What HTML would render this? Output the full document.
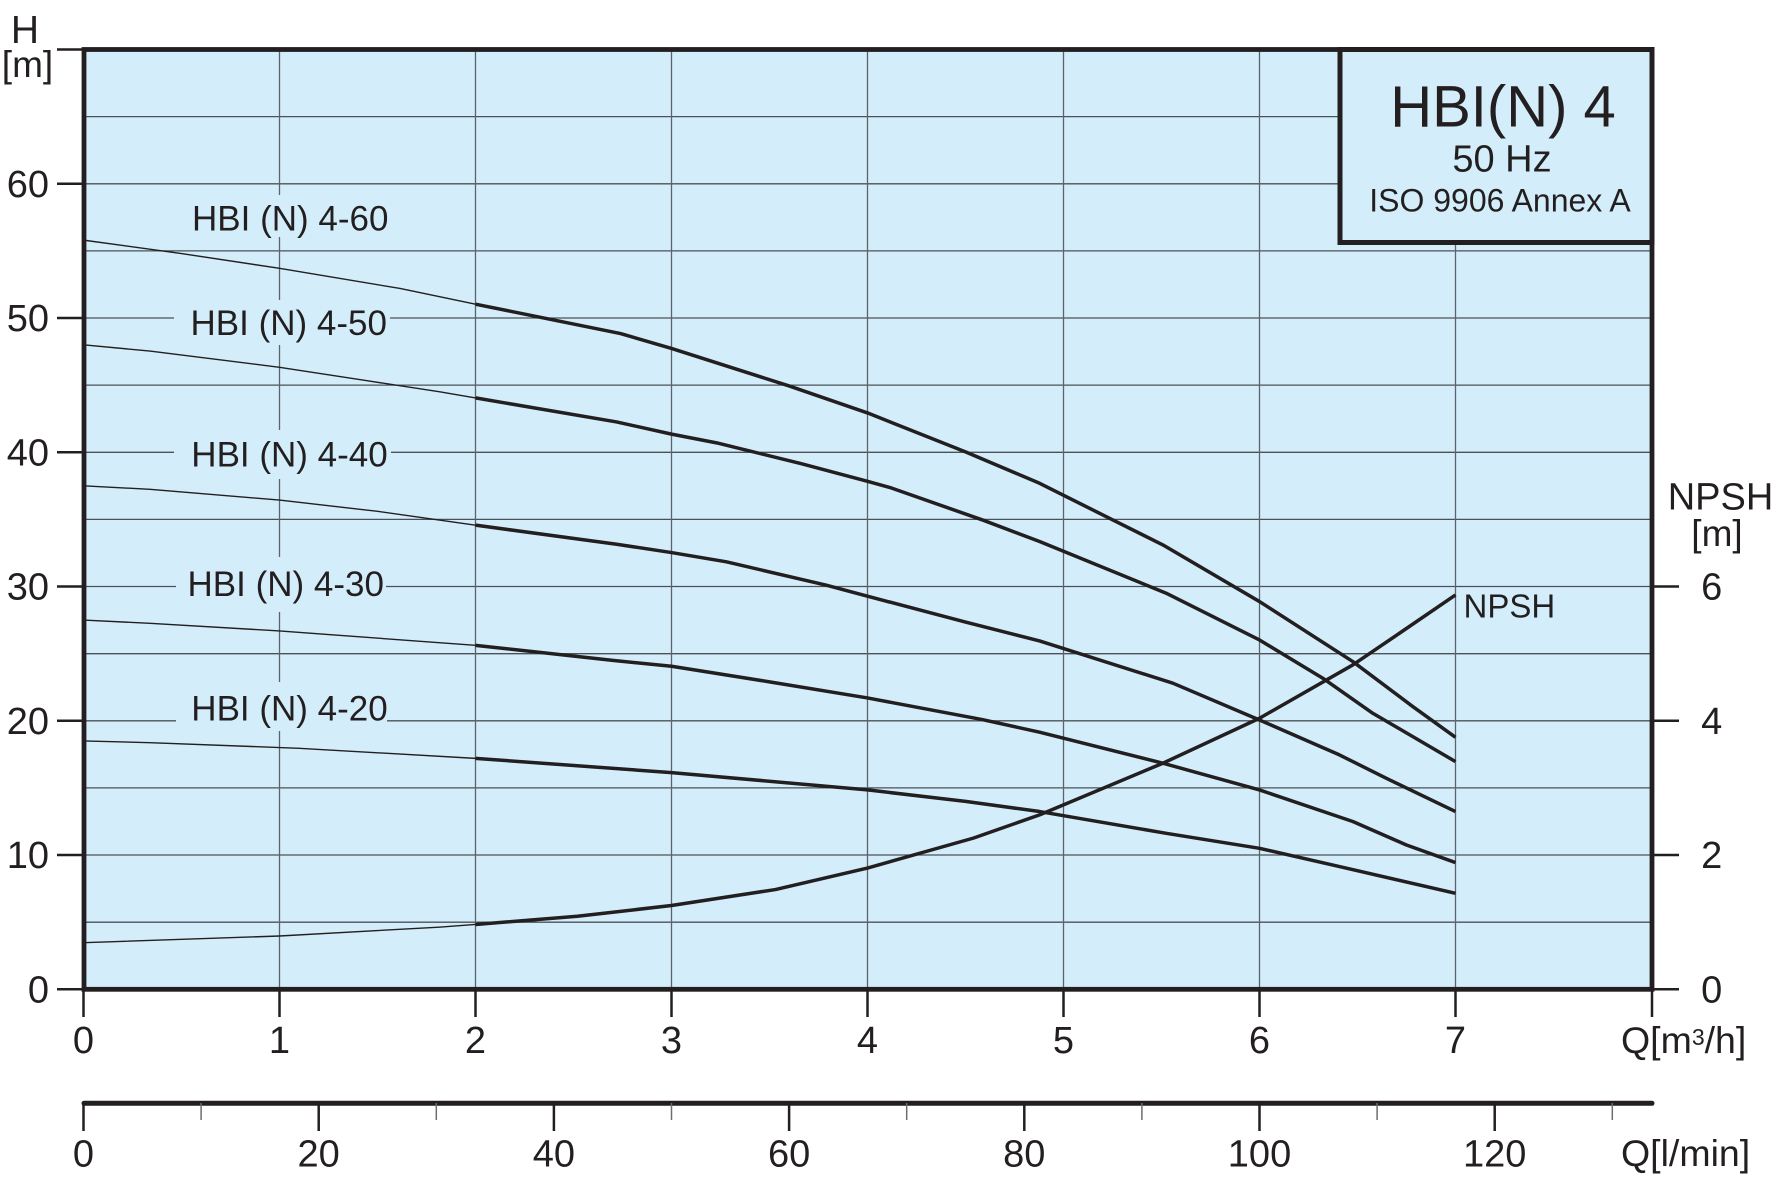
<!DOCTYPE html>
<html>
<head>
<meta charset="utf-8">
<style>
html,body{margin:0;padding:0;background:#ffffff;}
svg{display:block;}
text{font-family:"Liberation Sans",Arial,sans-serif;fill:#231f20;}
</style>
</head>
<body>
<svg width="1786" height="1186" viewBox="0 0 1786 1186" xmlns="http://www.w3.org/2000/svg">
  <!-- plot background -->
  <rect x="84" y="49.5" width="1568" height="940" fill="#d3eefa"/>

  <!-- horizontal gridlines (every 5 m) -->
  <g stroke="#4c5157" stroke-width="1.3">
    <line x1="84" y1="922.2" x2="1652" y2="922.2"/>
    <line x1="84" y1="855.0" x2="1652" y2="855.0"/>
    <line x1="84" y1="787.9" x2="1652" y2="787.9"/>
    <line x1="84" y1="720.8" x2="1652" y2="720.8"/>
    <line x1="84" y1="653.7" x2="1652" y2="653.7"/>
    <line x1="84" y1="586.5" x2="1652" y2="586.5"/>
    <line x1="84" y1="519.4" x2="1652" y2="519.4"/>
    <line x1="84" y1="452.3" x2="1652" y2="452.3"/>
    <line x1="84" y1="385.1" x2="1652" y2="385.1"/>
    <line x1="84" y1="318.0" x2="1652" y2="318.0"/>
    <line x1="84" y1="250.9" x2="1652" y2="250.9"/>
    <line x1="84" y1="183.8" x2="1652" y2="183.8"/>
    <line x1="84" y1="116.6" x2="1652" y2="116.6"/>
  </g>
  <!-- vertical gridlines (every 1 m3/h) -->
  <g stroke="#5c636a" stroke-width="1.3">
    <line x1="279.5" y1="49.5" x2="279.5" y2="989.3"/>
    <line x1="475.5" y1="49.5" x2="475.5" y2="989.3"/>
    <line x1="671.5" y1="49.5" x2="671.5" y2="989.3"/>
    <line x1="867.5" y1="49.5" x2="867.5" y2="989.3"/>
    <line x1="1063.5" y1="49.5" x2="1063.5" y2="989.3"/>
    <line x1="1259.5" y1="49.5" x2="1259.5" y2="989.3"/>
    <line x1="1455.5" y1="49.5" x2="1455.5" y2="989.3"/>
  </g>

  <!-- label knockouts -->
  <g fill="#d3eefa">
    <rect x="174" y="195" width="216" height="42"/>
    <rect x="174" y="300" width="216" height="45"/>
    <rect x="174" y="430" width="217" height="49"/>
    <rect x="176" y="557" width="210" height="55"/>
    <rect x="176" y="682" width="211" height="49"/>
  </g>

  <!-- curve labels -->
  <g font-size="35">
    <text x="192" y="230.7">HBI (N) 4-60</text>
    <text x="190.5" y="335">HBI (N) 4-50</text>
    <text x="191.3" y="466.7">HBI (N) 4-40</text>
    <text x="187.5" y="596">HBI (N) 4-30</text>
    <text x="191.3" y="720.7">HBI (N) 4-20</text>
  </g>
  <text x="1463.5" y="617.7" font-size="33">NPSH</text>

  <!-- curves -->
  <g transform="translate(83.5 989.3) scale(196 -13.426)" fill="none" stroke="#231f20" stroke-linejoin="round">
    <!-- thin parts -->
    <g stroke-width="1.4">
      <polyline vector-effect="non-scaling-stroke" points="0,55.8 0.5,54.8 1,53.7 1.615,52.2 2,51.03"/>
      <polyline vector-effect="non-scaling-stroke" points="0,48.0 0.339,47.54 1,46.33 1.818,44.5 2,44.05"/>
      <polyline vector-effect="non-scaling-stroke" points="0,37.5 0.339,37.24 1,36.44 1.5,35.6 2,34.57"/>
      <polyline vector-effect="non-scaling-stroke" points="0,27.5 0.339,27.26 1,26.69 1.814,25.82 2,25.62"/>
      <polyline vector-effect="non-scaling-stroke" points="0,18.5 0.339,18.37 1.1,17.95 2,17.2"/>
      <polyline vector-effect="non-scaling-stroke" points="0,3.47 1,3.97 1.814,4.63 2,4.83"/>
    </g>
    <!-- thick parts -->
    <g stroke-width="3.5">
      <polyline vector-effect="non-scaling-stroke" points="2,51.03 2.74,48.84 3,47.73 3.6,44.94 4,42.93 4.5,40.03 4.878,37.69 5.235,35.08 5.507,33.1 6,28.88 6.476,24.41 6.782,21.06 7,18.77"/>
      <polyline vector-effect="non-scaling-stroke" points="2,44.05 2.72,42.26 3,41.35 3.23,40.7 3.66,39.16 4,37.84 4.12,37.35 4.59,34.94 4.878,33.35 5.524,29.5 6,26.02 6.323,23.17 6.578,20.56 7,16.96"/>
      <polyline vector-effect="non-scaling-stroke" points="2,34.57 2.72,33.15 3,32.53 3.28,31.84 3.79,30.1 4,29.28 4.5,27.35 4.878,25.95 5.558,22.8 6,20.06 6.408,17.46 6.646,15.72 7,13.24"/>
      <polyline vector-effect="non-scaling-stroke" points="2,25.62 2.7,24.5 3,24.06 3.5,22.9 4,21.7 4.582,20.1 4.878,19.15 5.507,16.84 6,14.85 6.476,12.5 6.748,10.76 7,9.44"/>
      <polyline vector-effect="non-scaling-stroke" points="2,17.2 3,16.14 4,14.85 4.5,14.0 4.878,13.24 5.524,11.62 6,10.5 6.408,9.14 7,7.15"/>
      <polyline vector-effect="non-scaling-stroke" points="2,4.83 2.52,5.44 3,6.24 3.53,7.43 4,9.03 4.54,11.26 4.878,12.99 5.507,16.84 6,20.19 6.476,24.16 6.714,26.52 7,29.37"/>
    </g>
  </g>

  <!-- title box -->
  <rect x="1340" y="49.5" width="312" height="193" fill="#d3eefa" stroke="#231f20" stroke-width="5"/>
  <text x="1503" y="126.7" font-size="58" text-anchor="middle">HBI(N) 4</text>
  <text x="1502" y="171.7" font-size="38" text-anchor="middle">50 Hz</text>
  <text x="1500" y="211.7" font-size="32" text-anchor="middle">ISO 9906 Annex A</text>

  <!-- frame -->
  <rect x="84" y="49.5" width="1568" height="939.8" fill="none" stroke="#231f20" stroke-width="4.8"/>

  <!-- ticks -->
  <g stroke="#231f20" stroke-width="2.5">
    <line x1="57" y1="989.3" x2="84" y2="989.3"/>
    <line x1="57" y1="855.0" x2="84" y2="855.0"/>
    <line x1="57" y1="720.8" x2="84" y2="720.8"/>
    <line x1="57" y1="586.5" x2="84" y2="586.5"/>
    <line x1="57" y1="452.3" x2="84" y2="452.3"/>
    <line x1="57" y1="318.0" x2="84" y2="318.0"/>
    <line x1="57" y1="183.8" x2="84" y2="183.8"/>
    <line x1="57" y1="49.5" x2="84" y2="49.5"/>
    <!-- right ticks -->
    <line x1="1652" y1="989.3" x2="1679" y2="989.3"/>
    <line x1="1652" y1="855.0" x2="1679" y2="855.0"/>
    <line x1="1652" y1="720.8" x2="1679" y2="720.8"/>
    <line x1="1652" y1="586.5" x2="1679" y2="586.5"/>
    <!-- bottom ticks -->
    <line x1="83.5" y1="989.3" x2="83.5" y2="1017"/>
    <line x1="279.5" y1="989.3" x2="279.5" y2="1017"/>
    <line x1="475.5" y1="989.3" x2="475.5" y2="1017"/>
    <line x1="671.5" y1="989.3" x2="671.5" y2="1017"/>
    <line x1="867.5" y1="989.3" x2="867.5" y2="1017"/>
    <line x1="1063.5" y1="989.3" x2="1063.5" y2="1017"/>
    <line x1="1259.5" y1="989.3" x2="1259.5" y2="1017"/>
    <line x1="1455.5" y1="989.3" x2="1455.5" y2="1017"/>
    <line x1="1652" y1="989.3" x2="1652" y2="1017"/>
  </g>

  <!-- left tick labels -->
  <g font-size="38" text-anchor="end">
    <text x="49" y="1002.5">0</text>
    <text x="49" y="868.2">10</text>
    <text x="49" y="734">20</text>
    <text x="49" y="599.7">30</text>
    <text x="49" y="465.5">40</text>
    <text x="49" y="331.2">50</text>
    <text x="49" y="197">60</text>
  </g>
  <text x="25" y="43" font-size="39" text-anchor="middle">H</text>
  <text x="27.5" y="77" font-size="37" text-anchor="middle">[m]</text>

  <!-- right tick labels -->
  <g font-size="38" text-anchor="middle">
    <text x="1711.7" y="1002.5">0</text>
    <text x="1711.7" y="868.2">2</text>
    <text x="1711.7" y="734">4</text>
    <text x="1711.7" y="599.7">6</text>
  </g>
  <text x="1720.5" y="509.3" font-size="38" text-anchor="middle">NPSH</text>
  <text x="1717" y="546" font-size="37" text-anchor="middle">[m]</text>

  <!-- bottom q labels -->
  <g font-size="38" text-anchor="middle">
    <text x="83.5" y="1053">0</text>
    <text x="279.5" y="1053">1</text>
    <text x="475.5" y="1053">2</text>
    <text x="671.5" y="1053">3</text>
    <text x="867.5" y="1053">4</text>
    <text x="1063.5" y="1053">5</text>
    <text x="1259.5" y="1053">6</text>
    <text x="1455.5" y="1053">7</text>
  </g>
  <text x="1621" y="1053" font-size="37.5">Q[m<tspan font-size="23" dy="-8">3</tspan><tspan dy="8">/h]</tspan></text>

  <!-- l/min axis -->
  <line x1="84" y1="1103.3" x2="1652" y2="1103.3" stroke="#231f20" stroke-width="5" stroke-linecap="round"/>
  <g stroke="#231f20" stroke-width="2.5">
    <line x1="83.5" y1="1103" x2="83.5" y2="1131"/>
    <line x1="318.7" y1="1103" x2="318.7" y2="1131"/>
    <line x1="553.9" y1="1103" x2="553.9" y2="1131"/>
    <line x1="789.1" y1="1103" x2="789.1" y2="1131"/>
    <line x1="1024.3" y1="1103" x2="1024.3" y2="1131"/>
    <line x1="1259.5" y1="1103" x2="1259.5" y2="1131"/>
    <line x1="1494.7" y1="1103" x2="1494.7" y2="1131"/>
  </g>
  <g stroke="#6a6f74" stroke-width="1.5">
    <line x1="201.1" y1="1103" x2="201.1" y2="1120"/>
    <line x1="436.3" y1="1103" x2="436.3" y2="1120"/>
    <line x1="671.5" y1="1103" x2="671.5" y2="1120"/>
    <line x1="906.7" y1="1103" x2="906.7" y2="1120"/>
    <line x1="1141.9" y1="1103" x2="1141.9" y2="1120"/>
    <line x1="1377.1" y1="1103" x2="1377.1" y2="1120"/>
    <line x1="1612.3" y1="1103" x2="1612.3" y2="1120"/>
  </g>
  <g font-size="38" text-anchor="middle">
    <text x="83.5" y="1166.5">0</text>
    <text x="318.7" y="1166.5">20</text>
    <text x="553.9" y="1166.5">40</text>
    <text x="789.1" y="1166.5">60</text>
    <text x="1024.3" y="1166.5">80</text>
    <text x="1259.5" y="1166.5">100</text>
    <text x="1494.7" y="1166.5">120</text>
  </g>
  <text x="1621" y="1166" font-size="37.5">Q[l/min]</text>
</svg>
</body>
</html>
